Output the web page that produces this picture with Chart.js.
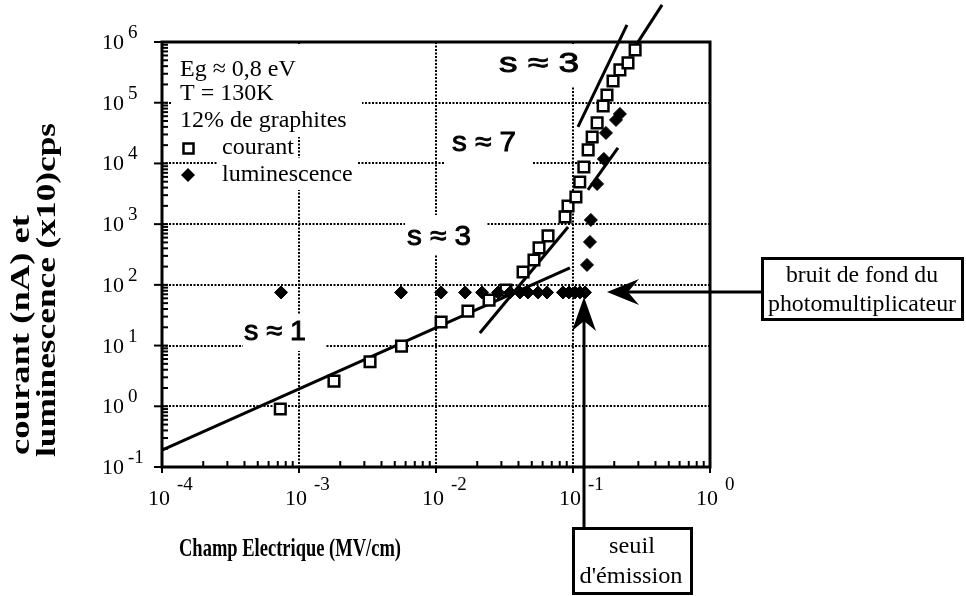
<!DOCTYPE html>
<html>
<head>
<meta charset="utf-8">
<script src="https://cdn.jsdelivr.net/npm/chart.js@4.4.0/dist/chart.umd.min.js"></script>
<style>
  html, body { margin: 0; background: #fff; }
</style>
</head>
<body>
<canvas id="grafico" width="966" height="596"></canvas>
<script>
// courant (carrés)
const courantX = [7.3e-4, 1.8e-3, 3.3e-3, 5.6e-3, 1.09e-2, 1.71e-2, 2.44e-2, 3.24e-2, 4.32e-2, 5.19e-2, 5.65e-2, 6.57e-2,
  8.75e-2, 9.2e-2, 0.105, 0.112, 0.120, 0.129, 0.138, 0.150, 0.166, 0.177, 0.196, 0.220, 0.252, 0.284];
const courantY = [0.9, 2.6, 5.4, 9.8, 24.5, 37, 56, 82, 163, 257, 406, 640,
  1315, 1995, 2806, 4955, 8750, 16700, 27300, 46500, 88500, 134000, 228000, 347000, 453000, 741000];

// luminescence (losanges)
const lumX = [7.4e-4, 5.56e-3, 1.09e-2, 1.63e-2, 2.17e-2, 2.84e-2, 3.47e-2, 4.1e-2, 4.69e-2, 5.56e-2, 6.46e-2,
  8.45e-2, 9.35e-2, 0.1035, 0.1125, 0.1224, 0.1265, 0.133, 0.135, 0.150, 0.168, 0.174, 0.206, 0.220];
const lumY = [75, 75, 75, 75, 75, 75, 75, 75, 75, 75, 75,
  75, 75, 75, 75, 75, 213, 509, 1172, 4590, 11860, 31770, 52100, 65300];

// droites de pente (extrémités)
const penteX = [[1e-4, 0.095], [0.0209, 0.092], [0.1087, 0.2477], [0.1285, 0.2128], [0.28, 0.4467]];
const penteY = [[0.19, 190], [16.1, 900], [39900, 1.91e6], [3656, 17990], [8.0e5, 4.08e6]];
const penteLabels = ["s \u2248 1", "s \u2248 3", "s \u2248 7", "s \u2248 3"];

// étiquettes des axes (exposants)
const xExposants = ["-4", "-3", "-2", "-1", "0"];
const yExposants = ["-1", "0", "1", "2", "3", "4", "5", "6"];

const legendeLignes = ["Eg \u2248 0,8 eV", "T = 130K", "12% de graphites"];

const serif = '"Liberation Serif", "Times New Roman", serif';
const sans = '"Liberation Sans", Arial, sans-serif';

function texteAjuste(ctx, txt, x, y, w, font, angle, align, epais) {
  ctx.save();
  ctx.translate(x, y);
  if (angle) ctx.rotate(angle);
  ctx.font = font;
  const m = ctx.measureText(txt).width;
  ctx.scale(w / m, 1);
  ctx.textAlign = align || "center";
  ctx.textBaseline = "middle";
  ctx.fillStyle = "#000";
  ctx.fillText(txt, 0, 0);
  if (epais) {
    ctx.strokeStyle = "#000";
    ctx.lineWidth = epais;
    ctx.strokeText(txt, 0, 0);
  }
  ctx.restore();
}

function masque(ctx, x, y, w, h) {
  ctx.fillStyle = "#fff";
  ctx.fillRect(x, y, w, h);
}

function fleche(ctx, pts) {
  ctx.beginPath();
  ctx.moveTo(pts[0][0], pts[0][1]);
  for (let i = 1; i < pts.length; i++) ctx.lineTo(pts[i][0], pts[i][1]);
  ctx.closePath();
  ctx.fill();
}

const decor = {
  id: "decor",
  beforeDatasetsDraw(chart) {
    const { ctx, chartArea: a, scales: { x, y } } = chart;
    ctx.save();
    // grille pointillée aux décades
    ctx.strokeStyle = "#000";
    ctx.lineWidth = 2;
    ctx.setLineDash([2, 1.5]);
    for (let e = -3; e <= -1; e++) {
      const px = Math.round(x.getPixelForValue(10 ** e));
      ctx.beginPath(); ctx.moveTo(px, a.top); ctx.lineTo(px, a.bottom); ctx.stroke();
    }
    for (let e = 0; e <= 5; e++) {
      const py = Math.round(y.getPixelForValue(10 ** e));
      ctx.beginPath(); ctx.moveTo(a.left, py); ctx.lineTo(a.right, py); ctx.stroke();
    }
    ctx.setLineDash([]);

    // légende (texte sur fond blanc)
    masque(ctx, 172, 44, 190, 93);
    masque(ctx, 218, 158, 140, 32);
    ctx.fillStyle = "#000";
    ctx.font = "24px " + serif;
    ctx.textBaseline = "middle";
    ctx.textAlign = "left";
    const rangs = [70, 94, 121];
    legendeLignes.forEach((t, i) => ctx.fillText(t, 180, rangs[i]));
    ctx.fillText("courant", 222, 148);
    ctx.fillText("luminescence", 222, 175);
    ctx.lineWidth = 2.5;
    ctx.strokeRect(183.5, 143.5, 10, 10);
    fleche(ctx, [[188, 168], [195, 175], [188, 182], [181, 175]]);

    // étiquettes de pente
    const etiq = [
      [penteLabels[0], 275, 332, 62, [243, 315, 82, 36]],
      [penteLabels[1], 439, 237, 64, [405, 215, 82, 40]],
      [penteLabels[2], 484, 143, 64, [445, 125, 88, 45]],
      [penteLabels[3], 539, 64, 80, [495, 44, 88, 42]]
    ];
    etiq.forEach(([t, cx, cy, w, m]) => {
      masque(ctx, m[0], m[1], m[2], m[3]);
      texteAjuste(ctx, t, cx, cy, w, "28px " + sans, 0, "center", 0.9);
    });
    ctx.restore();
  },
  afterDatasetsDraw(chart) {
    const { ctx, chartArea: a, scales: { x, y } } = chart;
    ctx.save();
    ctx.strokeStyle = "#000";
    ctx.fillStyle = "#000";
    // cadre
    ctx.lineWidth = 3;
    ctx.strokeRect(a.left, a.top, a.right - a.left, a.bottom - a.top);

    // graduations
    ctx.lineWidth = 2;
    for (let e = -4; e <= 0; e++) {
      const px = x.getPixelForValue(10 ** e);
      ctx.beginPath(); ctx.moveTo(px, a.bottom); ctx.lineTo(px, a.bottom + 6); ctx.stroke();
      if (e < 0) {
        for (let k = 2; k <= 9; k++) {
          const pm = x.getPixelForValue(k * 10 ** e);
          ctx.beginPath(); ctx.moveTo(pm, a.bottom); ctx.lineTo(pm, a.bottom - 6); ctx.stroke();
        }
      }
    }
    for (let e = -1; e <= 6; e++) {
      const py = y.getPixelForValue(10 ** e);
      ctx.beginPath(); ctx.moveTo(a.left - 8, py); ctx.lineTo(a.left + 6, py); ctx.stroke();
      if (e < 6) {
        for (let k = 2; k <= 9; k++) {
          const pm = y.getPixelForValue(k * 10 ** e);
          ctx.beginPath(); ctx.moveTo(a.left, pm); ctx.lineTo(a.left + 6, pm); ctx.stroke();
        }
      }
    }

    // libellés des graduations
    ctx.textBaseline = "alphabetic";
    xExposants.forEach((ex, i) => {
      const px = x.getPixelForValue(10 ** (i - 4));
      ctx.font = "22px " + serif;
      ctx.textAlign = "center";
      ctx.fillText("10", px - 3, 505);
      ctx.font = "19px " + serif;
      ctx.textAlign = "left";
      ctx.fillText(ex, px + 15, 490);
    });
    yExposants.forEach((ex, i) => {
      const py = y.getPixelForValue(10 ** (i - 1));
      ctx.font = "22px " + serif;
      ctx.textAlign = "right";
      ctx.fillText("10", 124, py + 7);
      ctx.font = "19px " + serif;
      ctx.textAlign = "left";
      ctx.fillText(ex, 128, py - 4);
    });

    // titres des axes
    texteAjuste(ctx, "Champ Electrique (MV/cm)", 290, 550, 222, "bold 25px " + serif);
    texteAjuste(ctx, "courant (nA) et", 22, 455, 240, "bold 28px " + serif, -Math.PI / 2, "left");
    texteAjuste(ctx, "luminescence (x10)cps", 48, 457, 334, "bold 28px " + serif, -Math.PI / 2, "left");

    // annotation : bruit de fond
    ctx.lineWidth = 3;
    ctx.beginPath(); ctx.moveTo(628, 292); ctx.lineTo(762, 292); ctx.stroke();
    fleche(ctx, [[607, 292], [639, 279], [628, 292], [639, 305]]);
    ctx.fillStyle = "#fff";
    ctx.fillRect(762, 258, 201, 62);
    ctx.fillStyle = "#000";
    ctx.strokeRect(762.5, 258.5, 200, 61);
    texteAjuste(ctx, "bruit de fond du", 862, 276, 152, "23px " + serif);
    texteAjuste(ctx, "photomultiplicateur", 862, 305, 188, "23px " + serif);

    // annotation : seuil d'émission
    ctx.beginPath(); ctx.moveTo(584, 321); ctx.lineTo(584, 528); ctx.stroke();
    fleche(ctx, [[584, 297], [596, 331], [584, 321], [572, 331]]);
    ctx.fillStyle = "#fff";
    ctx.fillRect(573, 528, 119, 66);
    ctx.fillStyle = "#000";
    ctx.strokeRect(573.5, 528.5, 118, 65);
    texteAjuste(ctx, "seuil", 632, 547, 46, "23px " + serif);
    texteAjuste(ctx, "d'\u00e9mission", 631, 577, 103, "23px " + serif);
    ctx.restore();
  }
};

const lignes = penteX.map((xs, i) => ({
  label: "pente " + i,
  data: xs.map((v, j) => ({ x: v, y: penteY[i][j] })),
  showLine: true,
  pointRadius: 0,
  borderColor: "#000",
  borderWidth: 3,
  clip: false,
  order: 2
}));

const config = {
  type: "scatter",
  data: {
    datasets: [
      ...lignes,
      {
        label: "courant",
        data: courantX.map((v, i) => ({ x: v, y: courantY[i] })),
        pointStyle: "rect",
        pointRadius: 7.5,
        backgroundColor: "#fff",
        borderColor: "#000",
        borderWidth: 2.5,
        order: 1
      },
      {
        label: "luminescence",
        data: lumX.map((v, i) => ({ x: v, y: lumY[i] })),
        pointStyle: "rectRot",
        pointRadius: 6.5,
        backgroundColor: "#000",
        borderColor: "#000",
        borderWidth: 1,
        order: 0
      }
    ]
  },
  options: {
    responsive: false,
    animation: false,
    layout: { padding: { left: 162, right: 256, top: 42, bottom: 129 } },
    plugins: { legend: { display: false }, tooltip: { enabled: false } },
    scales: {
      x: { type: "logarithmic", min: 1e-4, max: 1, display: false },
      y: { type: "logarithmic", min: 0.1, max: 1e6, display: false }
    }
  },
  plugins: [decor]
};

const canvas = document.getElementById("grafico");
new Chart(canvas.getContext("2d"), config);
</script>
</body>
</html>
